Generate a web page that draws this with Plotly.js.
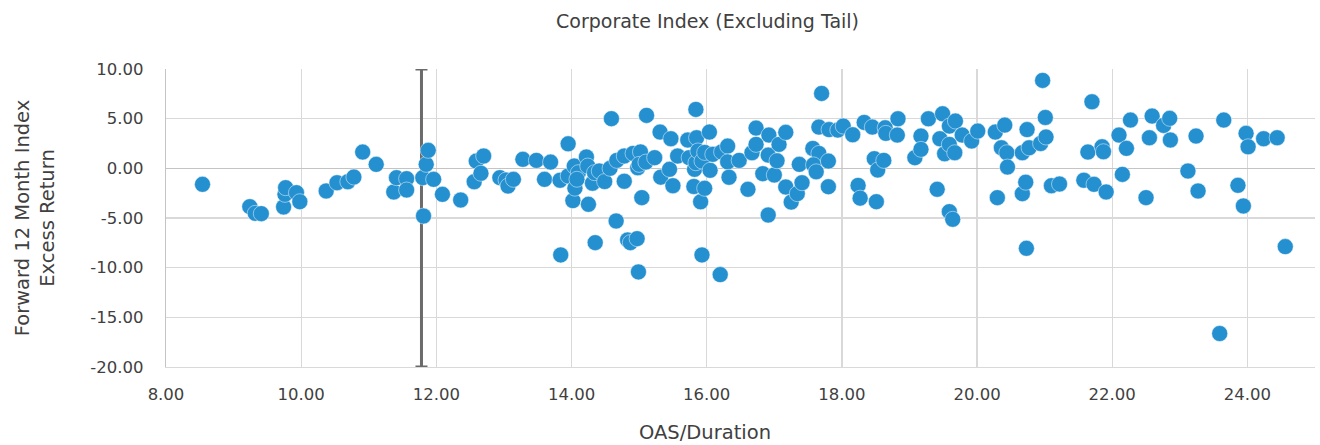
<!DOCTYPE html>
<html>
<head>
<meta charset="utf-8">
<script src="https://cdn.plot.ly/plotly-3.0.1.min.js"></script>
<style>
  html, body { margin: 0; padding: 0; background: #fff; }
  #chart { width: 1320px; height: 445px; }
</style>
</head>
<body>
<div id="chart"></div>
<script>
// OAS/Duration for each month
const oasDuration = [
  8.54, 9.24, 9.32, 9.41, 9.74, 9.76, 9.77, 9.93, 9.98, 10.37,
  10.53, 10.69, 10.78, 10.91, 11.11, 11.37, 11.41, 11.56, 11.56, 11.80,
  11.81, 11.85, 11.88, 11.96, 12.09, 12.36, 12.56, 12.59, 12.66, 12.70,
  12.94, 13.03, 13.06, 13.14, 13.28, 13.48, 13.60, 13.69, 13.83, 13.84,
  13.95, 13.95, 14.02, 14.04, 14.05, 14.10, 14.08, 14.22, 14.24, 14.25,
  14.31, 14.34, 14.35, 14.41, 14.49, 14.57, 14.59, 14.67, 14.66, 14.78,
  14.78, 14.83, 14.87, 14.91, 14.98, 14.97, 14.99, 15.04, 15.02, 15.00,
  15.10, 15.11, 15.23, 15.31, 15.32, 15.45, 15.47, 15.50, 15.57, 15.72,
  15.74, 15.81, 15.82, 15.84, 15.84, 15.85, 15.87, 15.93, 15.97, 16.05,
  15.91, 15.93, 15.97, 16.04, 16.09, 16.22, 16.20, 16.31, 16.31, 16.33,
  16.48, 16.61, 16.67, 16.73, 16.73, 16.83, 16.91, 16.91, 16.92, 17.00,
  17.04, 17.07, 17.17, 17.17, 17.25, 17.34, 17.37, 17.41, 17.57, 17.66,
  17.58, 17.62, 17.66, 17.70, 17.80, 17.80, 17.81, 17.94, 18.02, 18.16,
  18.24, 18.27, 18.33, 18.45, 18.48, 18.53, 18.51, 18.62, 18.64, 18.65,
  18.82, 18.83, 19.08, 19.17, 19.17, 19.28, 19.41, 19.45, 19.49, 19.52,
  19.59, 19.59, 19.59, 19.64, 19.67, 19.68, 19.78, 19.92, 20.01, 20.27,
  20.30, 20.36, 20.41, 20.44, 20.45, 20.67, 20.67, 20.72, 20.73, 20.74,
  20.77, 20.94, 20.97, 21.01, 21.02, 21.10, 21.22, 21.58, 21.64, 21.70,
  21.73, 21.85, 21.87, 21.91, 22.10, 22.15, 22.21, 22.27, 22.50, 22.55,
  22.59, 22.76, 22.85, 22.86, 23.12, 23.24, 23.27, 23.59, 23.65, 23.86,
  23.94, 23.98, 24.01, 24.24, 24.44, 24.56
];

// Forward 12 month index excess return (%)
const excessReturn = [
  -1.61, -3.86, -4.53, -4.56, -3.89, -2.62, -1.95, -2.45, -3.36, -2.28,
  -1.45, -1.35, -0.88, 1.64, 0.40, -2.38, -0.94, -1.04, -2.18, -0.94,
  -4.80, 0.40, 1.81, -1.11, -2.62, -3.19, -1.35, 0.73, -0.50, 1.24,
  -0.94, -1.18, -1.78, -1.11, 0.91, 0.80, -1.11, 0.63, -1.20, -8.72,
  2.47, -0.77, -3.25, 0.23, -2.00, -0.44, -1.10, 1.14, 0.23, -3.62,
  -1.50, -0.44, -7.48, -0.27, -1.33, 0.00, 5.00, 0.80, -5.30, 1.24,
  -1.30, -7.21, -7.48, 1.50, 0.06, -7.08, -10.43, -2.95, 1.65, 0.40,
  0.63, 5.33, 1.07, 3.65, -0.89, -0.10, 2.98, -1.75, 1.24, 2.85,
  1.07, -1.83, -0.10, 0.56, 5.93, 3.08, 1.75, 0.73, 1.60, -0.20,
  -3.37, -8.72, -2.01, 3.65, 1.41, 1.65, -10.70, 2.24, 0.65, -0.90,
  0.80, -2.11, 1.57, 4.05, 2.41, -0.54, 1.33, -4.70, 3.35, -0.67,
  0.76, 2.41, 3.62, -1.88, -3.40, -2.55, 0.40, -1.45, 2.00, 1.50,
  0.35, -0.35, 4.15, 7.54, 0.73, -1.85, 3.90, 3.85, 4.25, 3.38,
  -1.72, -3.00, 4.62, 4.15, 0.97, -0.17, -3.36, 0.80, 4.08, 3.52,
  3.35, 4.99, 1.07, 3.25, 1.91, 4.99, -2.11, 2.98, 5.49, 1.47,
  4.25, 2.41, -4.36, -5.13, 1.57, 4.76, 3.35, 2.75, 3.75, 3.65,
  -2.95, 2.07, 4.35, 1.57, 0.13, 1.57, -2.55, -1.40, -8.05, 3.90,
  2.07, 2.50, 8.85, 5.12, 3.15, -1.75, -1.58, -1.20, 1.64, 6.70,
  -1.61, 2.17, 1.67, -2.38, 3.35, -0.61, 2.01, 4.86, -2.95, 3.08,
  5.26, 4.32, 5.03, 2.85, -0.27, 3.25, -2.28, -16.63, 4.86, -1.71,
  -3.79, 3.52, 2.17, 2.98, 3.08, -7.88
];

// Vertical threshold marker spanning the full return range
const thresholdX = 11.78;
const returnRange = [-20, 10];

// Axis tick values and labels
const xTicks = [8, 10, 12, 14, 16, 18, 20, 22, 24];
const yTicks = [-20, -15, -10, -5, 0, 5, 10];

const FONT = '"DejaVu Sans", "Open Sans", sans-serif';
const TEXT = '#404040';
const GRID = '#d9d9d9';

const mid = (returnRange[0] + returnRange[1]) / 2;
const half = (returnRange[1] - returnRange[0]) / 2;

const traces = [
  {
    type: 'scatter',
    mode: 'markers',
    x: [thresholdX],
    y: [mid],
    marker: { size: 1, color: 'rgba(0,0,0,0)' },
    error_y: {
      type: 'data', symmetric: true, array: [half],
      color: '#6b6b6b', thickness: 3, width: 6
    },
    hoverinfo: 'skip',
    showlegend: false
  },
  {
    type: 'scatter',
    mode: 'markers',
    x: oasDuration,
    y: excessReturn,
    marker: {
      size: 16,
      color: '#2490d0',
      line: { width: 0.6, color: 'rgba(255,255,255,0.8)' }
    },
    showlegend: false
  }
];

const layout = {
  width: 1320,
  height: 445,
  paper_bgcolor: '#ffffff',
  plot_bgcolor: '#ffffff',
  margin: { l: 166, r: 5, t: 69, b: 78 },
  font: { family: FONT, color: TEXT, size: 16 },
  title: {
    text: 'Corporate Index (Excluding Tail)',
    font: { family: FONT, size: 19, color: TEXT },
    xref: 'container', x: 0.536, xanchor: 'center',
    yref: 'container', y: 0.953, yanchor: 'middle'
  },
  xaxis: {
    range: [8, 25],
    tickvals: xTicks,
    ticktext: xTicks.map(v => v.toFixed(2)),
    showgrid: true, gridcolor: GRID, gridwidth: 1.3,
    zeroline: false,
    showline: true, linecolor: GRID, linewidth: 1.3,
    ticks: '',
    ticklabelstandoff: 12,
    tickfont: { family: FONT, size: 16.5, color: TEXT }
  },
  yaxis: {
    range: returnRange,
    tickvals: yTicks,
    ticktext: yTicks.map(v => v.toFixed(2)),
    showgrid: true, gridcolor: GRID, gridwidth: 1.3,
    zeroline: true, zerolinecolor: '#c4c4c4', zerolinewidth: 1.5,
    showline: true, linecolor: '#c4c4c4', linewidth: 1.3,
    ticks: '',
    ticklabelstandoff: 18,
    tickfont: { family: FONT, size: 16.5, color: TEXT },
    title: {
      text: 'Forward 12 Month Index<br>Excess Return',
      font: { family: FONT, size: 19.5, color: TEXT },
      standoff: 30
    }
  },
  annotations: [
    {
      text: 'OAS/Duration',
      font: { family: FONT, size: 19.5, color: TEXT },
      xref: 'paper', x: (705 - 166) / 1149, xanchor: 'center',
      yref: 'paper', y: -65 / 298, yanchor: 'middle',
      showarrow: false
    }
  ]
};

Plotly.newPlot('chart', traces, layout, { displayModeBar: false, staticPlot: true });
</script>
</body>
</html>
